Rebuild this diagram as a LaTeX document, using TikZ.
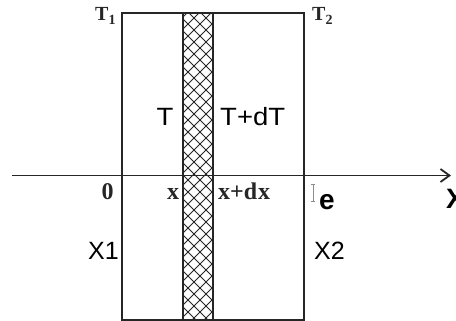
\documentclass[tikz,border=0pt]{standalone}
\usepackage{fontspec}
\setmainfont{Liberation Serif}
\setsansfont{Liberation Sans}
\usetikzlibrary{arrows.meta}
\definecolor{ink}{HTML}{262626}
\newcommand{\widetxt}[1]{\scalebox{1.1}[1]{#1}}
\tikzset{
  frameline/.style={draw=ink, line width=2pt},
  hatchline/.style={draw=ink, line width=1pt},
  serlab/.style={inner sep=0pt, font=\fontsize{24}{24}\selectfont\bfseries, text=ink},
  toplab/.style={inner sep=0pt, font=\fontsize{20}{20}\selectfont\bfseries, text=ink},
  sanlab/.style={inner sep=0pt, font=\fontsize{25}{25}\selectfont\sffamily, text=black},
  sanbold/.style={inner sep=0pt, font=\fontsize{28}{28}\selectfont\sffamily\bfseries, text=black},
}
\begin{document}
\begin{tikzpicture}[x=1pt,y=-1pt]
\useasboundingbox (0,0) rectangle (456,321);
\fill[white] (0,0) rectangle (456,321);
% strip hatching
\begin{scope}
  \clip (182,13) rectangle (213,319);
  \foreach \k in {-40,-28,...,340} {
    \draw[hatchline] (160,\k) -- (240,\k+80);
    \draw[hatchline] (160,\k+80) -- (240,\k);
  }
\end{scope}
% outer frame
\coordinate (tl) at (121.5,13);
\coordinate (br) at (304,319.5);
\draw[frameline] (tl) rectangle (br);
% strip borders
\coordinate (s1t) at (182.5,13);
\coordinate (s1b) at (182.5,319.5);
\coordinate (s2t) at (213,13);
\coordinate (s2b) at (213,319.5);
\draw[frameline] (s1t) -- (s1b);
\draw[frameline] (s2t) -- (s2b);
% axis
\coordinate (axs) at (12,175.5);
\coordinate (axe) at (451,175.5);
\draw[frameline, line width=1.8pt, -{Straight Barb[length=9pt,width=13pt,line width=1.8pt]}] (axs) -- (axe);
% cursor mark
\coordinate (cu1) at (313,184);
\coordinate (cu2) at (313,201);
\draw[black!45, line width=0.6pt] (cu1) -- (cu2);
\draw[black!45, line width=0.6pt] (311,184) -- (315,184) (311,201) -- (315,201);
% labels
\node[toplab, anchor=base west] (t1) at (95,21) {T\textsubscript{1}};
\node[toplab, anchor=base west] (t2) at (312,21) {T\textsubscript{2}};
\node[serlab, anchor=base] (zero) at (107.5,200) {0};
\node[serlab, anchor=base] (xl) at (173,200) {x};
\node[serlab, anchor=base west] (xdx) at (218,200) {x+d\kern1pt x};
\node[sanlab, anchor=base] (tt) at (165,126) {\widetxt{T}};
\node[sanlab, anchor=base west] (tdt) at (220,126) {\widetxt{T+dT}};
\node[sanlab, anchor=base west] (x1) at (88,259) {X1};
\node[sanlab, anchor=base west] (x2) at (314,259) {X2};
\node[sanbold, anchor=base west] (ee) at (319,209) {e};
\node[sanbold, anchor=base west] (xx) at (446,208) {X};
\end{tikzpicture}
\end{document}
